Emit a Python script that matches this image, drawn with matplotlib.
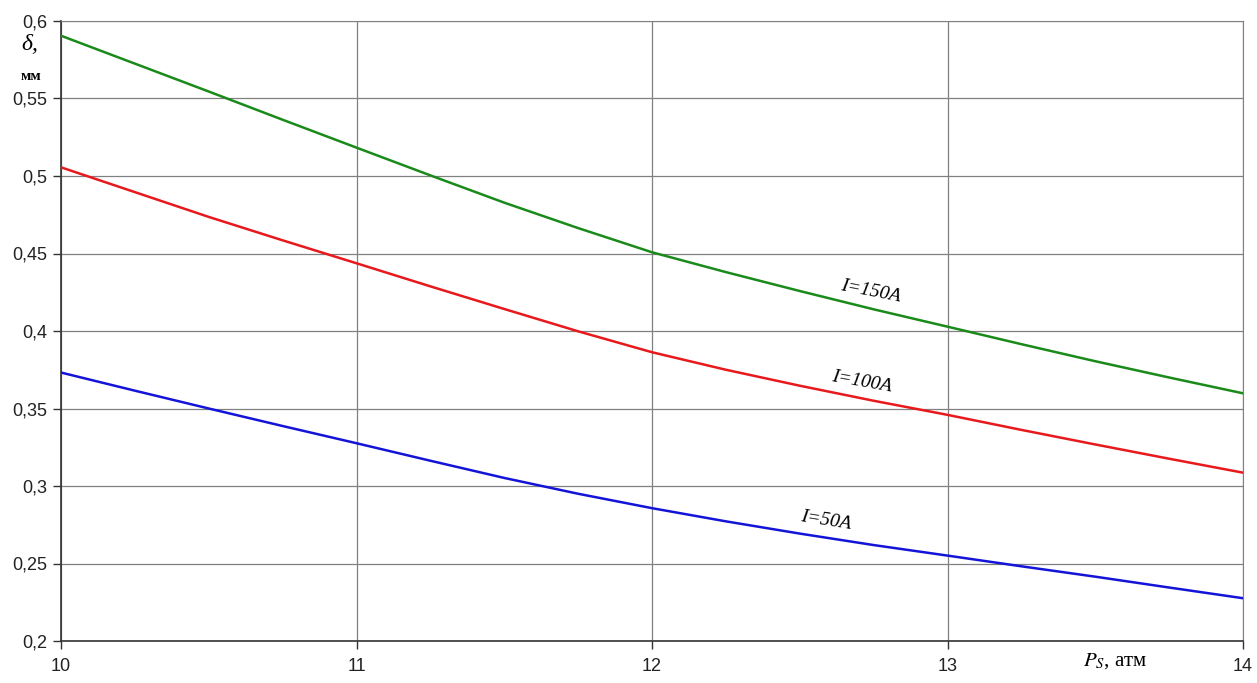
import matplotlib
matplotlib.use("Agg")
import matplotlib.pyplot as plt

ps = [10, 10.25, 10.5, 10.75, 11, 11.25, 11.5, 11.75, 12,
      12.25, 12.5, 12.75, 13, 13.25, 13.5, 13.75, 14]
d150 = [0.5905, 0.5725, 0.5545, 0.5363, 0.5183, 0.5004, 0.4828, 0.4664, 0.4508,
        0.4380, 0.4258, 0.4140, 0.4028, 0.3915, 0.3805, 0.3700, 0.3598]
d100 = [0.5056, 0.4896, 0.4736, 0.4585, 0.4437, 0.4288, 0.4142, 0.3998, 0.3863,
        0.3750, 0.3647, 0.3550, 0.3459, 0.3362, 0.3268, 0.3176, 0.3086]
d50 = [0.3732, 0.3615, 0.3500, 0.3387, 0.3276, 0.3163, 0.3052, 0.2950, 0.2857,
       0.2772, 0.2693, 0.2619, 0.2551, 0.2482, 0.2415, 0.2345, 0.2276]
xticks = [10, 11, 12, 13, 14]
yticks = [0.2, 0.25, 0.3, 0.35, 0.4, 0.45, 0.5, 0.55, 0.6]
ytick_labels = ["0,2", "0,25", "0,3", "0,35", "0,4", "0,45", "0,5", "0,55", "0,6"]

fig = plt.figure(figsize=(12.57, 6.83), dpi=100)
ax = fig.add_axes([61/1257, 42/683, (1243-61)/1257, (641-21)/683])

ax.plot(ps, d150, color="#1a8a1a", lw=1.8, zorder=3)
ax.plot(ps, d100, color="#e8191c", lw=1.8, zorder=3)
ax.plot(ps, d50, color="#1414d8", lw=1.8, zorder=3)

ax.set_xlim(10, 14)
ax.set_ylim(0.2, 0.6)
ax.set_xticks(xticks)
ax.set_xticklabels([str(t) for t in xticks])
ax.set_yticks(yticks)
ax.set_yticklabels(ytick_labels)
ax.grid(True, color="#808080", lw=0.9)
ax.tick_params(labelsize=13, length=6, color="#333333", width=1, labelcolor="#222222")
for lab in ax.get_xticklabels() + ax.get_yticklabels():
    lab.set_family("Liberation Sans")
ax.tick_params(axis="x", pad=6)
ax.tick_params(axis="y", pad=4)
for s in ["top", "right"]:
    ax.spines[s].set_color("#808080")
for s in ["left", "bottom"]:
    ax.spines[s].set_color("#333333")
    ax.spines[s].set_linewidth(1.2)

serif = "Liberation Serif"
fig.text(21/1257, 1 - 44/683, "δ,", fontsize=17, style="italic", family=serif, ha="left", va="center")
fig.text(31/1257, 1 - 76/683, "мм", fontsize=11, family=serif, ha="center", va="center", weight="bold")
fig.text(1083/1257, 1 - 661/683, r"$P_S$, атм", fontsize=15, family=serif, ha="left", va="center",
         math_fontfamily="stix")

ax.text(12.74, 0.4255, "I=150A", fontsize=14, family=serif, style="italic", rotation=-11,
        ha="center", va="center")
ax.text(12.71, 0.367, "I=100A", fontsize=14, family=serif, style="italic", rotation=-10,
        ha="center", va="center")
ax.text(12.59, 0.2775, "I=50A", fontsize=14, family=serif, style="italic", rotation=-9,
        ha="center", va="center")

fig.savefig("out.png", dpi=100)
